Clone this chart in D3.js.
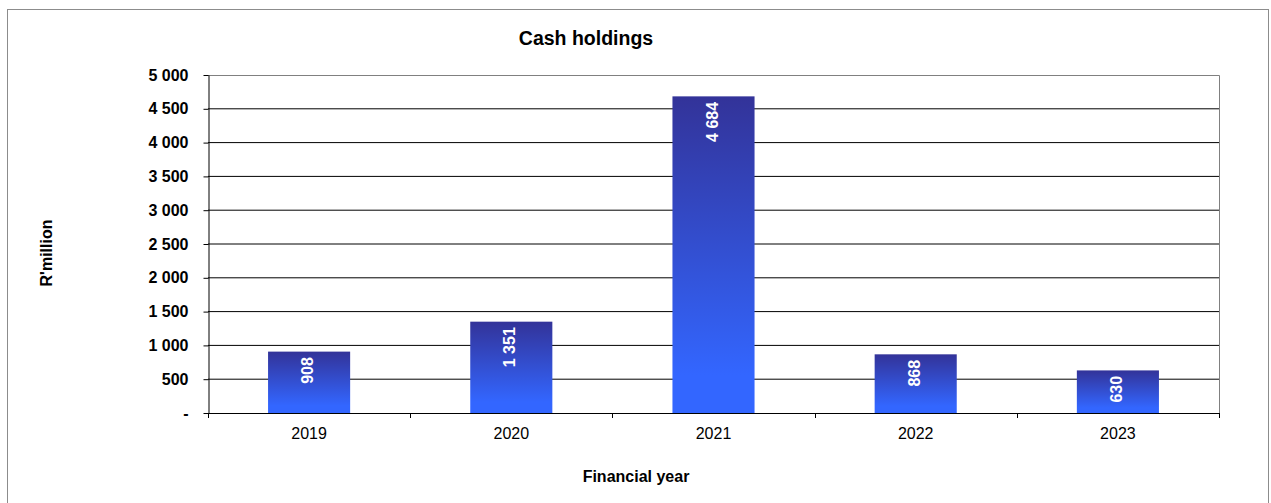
<!DOCTYPE html>
<html>
<head>
<meta charset="utf-8">
<script src="https://cdn.jsdelivr.net/npm/d3@7"></script>
<style>
  html, body { margin: 0; padding: 0; background: #fff; }
  svg { display: block; font-family: "Liberation Sans", Arial, sans-serif; }
</style>
</head>
<body>
<svg id="chart" width="1271" height="503"></svg>
<script>
// Cash holdings per financial year, R'million
const years = ["2019", "2020", "2021", "2022", "2023"];
const cashHoldings = [908, 1351, 4684, 868, 630];
const yTickValues = [0, 500, 1000, 1500, 2000, 2500, 3000, 3500, 4000, 4500, 5000];

const chartTitle = "Cash holdings";
const xAxisTitle = "Financial year";
const yAxisTitle = "R'million";

const W = 1271, H = 503;
const plot = { left: 208, right: 1219, top: 75, bottom: 413 };

const svg = d3.select("#chart");

// Space-grouped thousands, dash for zero
const locale = d3.formatLocale({ decimal: ".", thousands: " ", grouping: [3], currency: ["R", ""] });
const fmt = locale.format(",.0f");
const fmtTick = v => v === 0 ? "-" : fmt(v);

// Outer chart frame
svg.append("rect")
  .attr("x", 7.5).attr("y", 9.5)
  .attr("width", 1261).attr("height", 520)
  .attr("fill", "#fff")
  .attr("stroke", "#8c8c8c")
  .attr("stroke-width", 1);

const x = d3.scaleBand()
  .domain(years)
  .range([plot.left, plot.right])
  .paddingInner(0.594)
  .paddingOuter(0.297);

const y = d3.scaleLinear()
  .domain([0, 5000])
  .range([plot.bottom, plot.top]);

// Bar fill: dark navy at top to bright blue at base
const defs = svg.append("defs");
const grad = defs.append("linearGradient")
  .attr("id", "barFill")
  .attr("x1", 0).attr("y1", 0).attr("x2", 0).attr("y2", 1);
grad.append("stop").attr("offset", "0%").attr("stop-color", "#333399");
grad.append("stop").attr("offset", "88%").attr("stop-color", "#3366ff");
grad.append("stop").attr("offset", "100%").attr("stop-color", "#3366ff");

// Horizontal gridlines
svg.append("g")
  .selectAll("line")
  .data(yTickValues.filter(v => v > 0 && v < 5000))
  .join("line")
  .attr("x1", plot.left).attr("x2", plot.right)
  .attr("y1", d => y(d)).attr("y2", d => y(d))
  .attr("stroke", "#000")
  .attr("stroke-width", 1);

// Plot area border (top and right)
svg.append("path")
  .attr("d", `M${plot.left},${plot.top + 0.5}H${plot.right + 0.5}V${plot.bottom}`)
  .attr("fill", "none")
  .attr("stroke", "#808080")
  .attr("stroke-width", 1);

// Bars
const bars = cashHoldings.map((v, i) => ({ year: years[i], value: v }));
svg.append("g")
  .selectAll("rect")
  .data(bars)
  .join("rect")
  .attr("x", d => x(d.year))
  .attr("width", x.bandwidth())
  .attr("y", d => y(d.value))
  .attr("height", d => y(0) - y(d.value))
  .attr("fill", "url(#barFill)");

// Y axis
const yAxis = d3.axisLeft(y)
  .tickValues(yTickValues)
  .tickFormat(fmtTick)
  .tickSizeInner(5)
  .tickSizeOuter(0)
  .tickPadding(15);
const gy = svg.append("g")
  .attr("transform", `translate(${plot.left + 0.5},0)`)
  .call(yAxis);
gy.select(".domain").attr("stroke", "#000");
gy.selectAll(".tick line").attr("stroke", "#000");
gy.selectAll(".tick text")
  .attr("font-size", 16)
  .attr("font-weight", "bold")
  .attr("fill", "#000")
  .attr("font-family", "'Liberation Sans', Arial, sans-serif");

// X axis: ticks sit on category boundaries
svg.append("line")
  .attr("x1", plot.left).attr("x2", plot.right + 0.5)
  .attr("y1", plot.bottom + 0.5).attr("y2", plot.bottom + 0.5)
  .attr("stroke", "#000");
const boundaries = years.map(yr => x(yr) - x.step() * x.paddingOuter()).concat([plot.right]);
svg.append("g")
  .selectAll("line")
  .data(boundaries)
  .join("line")
  .attr("x1", d => Math.round(d) + 0.5).attr("x2", d => Math.round(d) + 0.5)
  .attr("y1", plot.bottom).attr("y2", plot.bottom + 5)
  .attr("stroke", "#000");

svg.append("g")
  .selectAll("text")
  .data(years)
  .join("text")
  .attr("x", d => x(d) + x.bandwidth() / 2)
  .attr("y", 439)
  .attr("text-anchor", "middle")
  .attr("font-size", 16)
  .attr("fill", "#000")
  .text(d => d);

// Value labels, rotated, inside the top of each bar
const labels = svg.append("g")
  .selectAll("text")
  .data(bars)
  .join("text")
  .attr("font-size", 16)
  .attr("font-weight", "bold")
  .attr("fill", "#fff")
  .attr("text-anchor", "start")
  .text(d => fmt(d.value));

labels.each(function (d) {
  const len = this.getComputedTextLength();
  const top = y(d.value), base = y(0);
  let start = top + 5.5 + len;
  if (start > base - 6) start = base - 6;
  const cx = x(d.year) + x.bandwidth() / 2;
  d3.select(this).attr("transform", `translate(${cx + 4},${start}) rotate(-90)`);
});

// Titles
svg.append("text")
  .attr("x", 586).attr("y", 45)
  .attr("text-anchor", "middle")
  .attr("font-size", 19.5)
  .attr("font-weight", "bold")
  .attr("fill", "#000")
  .text(chartTitle);

svg.append("text")
  .attr("x", 636).attr("y", 482)
  .attr("text-anchor", "middle")
  .attr("font-size", 16)
  .attr("font-weight", "bold")
  .attr("fill", "#000")
  .text(xAxisTitle);

svg.append("text")
  .attr("transform", "translate(52,253) rotate(-90)")
  .attr("text-anchor", "middle")
  .attr("font-size", 16)
  .attr("font-weight", "bold")
  .attr("fill", "#000")
  .text(yAxisTitle);
</script>
</body>
</html>
